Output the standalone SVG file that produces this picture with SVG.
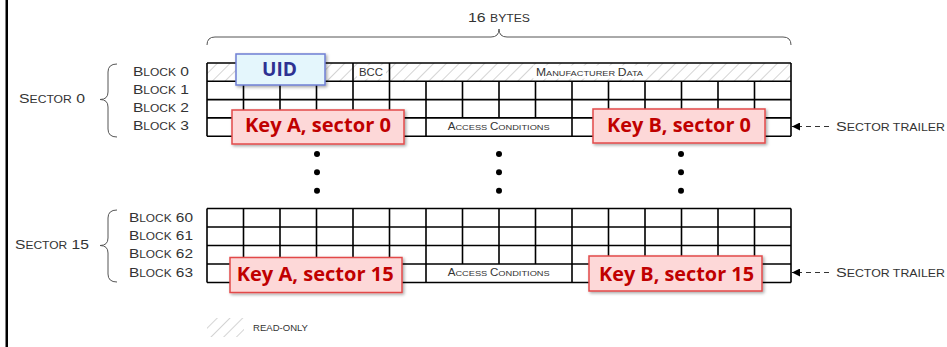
<svg xmlns="http://www.w3.org/2000/svg" width="947" height="347" viewBox="0 0 947 347">
  <style>
    .lbl { font-family: "Liberation Sans", Arial, sans-serif; fill: #333333; }
    .grid { fill: none; stroke: #000000; stroke-width: 1.6; }
    .brace { fill: none; stroke: #555555; stroke-width: 1; }
    .key rect { fill: #FDD8D8; stroke: #E24A4A; stroke-width: 1.5; filter: url(#shadow); }
    .key text { font-family: "Open Sans", "Noto Sans", sans-serif; font-weight: 700; font-size: 19px; fill: #C00000; }
    .uid rect { fill: #E4F6FC; stroke: #6F7FD4; stroke-width: 1.5; filter: url(#shadow); }
    .uid text { font-family: "Open Sans", "Noto Sans", sans-serif; font-weight: 700; font-size: 20px; fill: #2E3192; }
    .dot { fill: #000000; }
    .trail { stroke: #333333; stroke-width: 1; stroke-dasharray: 5 4; marker-end: url(#arrow); }
  </style>
  <defs>
    <pattern id="hatch" patternUnits="userSpaceOnUse" width="9" height="9" patternTransform="rotate(45)">
      <line x1="0" y1="0" x2="0" y2="9" stroke="#BDBDBD" stroke-width="1.3"/>
    </pattern>
    <filter id="shadow" x="-10%" y="-20%" width="125%" height="150%">
      <feDropShadow dx="1.5" dy="1.5" stdDeviation="1.5" flood-color="#000000" flood-opacity="0.35"/>
    </filter>
    <marker id="arrow" viewBox="0 0 8 8" refX="8" refY="4" markerWidth="8" markerHeight="8" markerUnits="userSpaceOnUse" orient="auto">
      <path d="M0,0 L8,4 L0,8 z" fill="#000000"/>
    </marker>
  </defs>

  <rect width="947" height="347" fill="#FFFFFF"/>
  <!-- left frame edge -->
  <rect x="5.5" y="0" width="2.5" height="347" fill="#000000"/>

  <!-- 16 bytes brace and caption -->
  <g id="bytes-header">
    <path class="brace" d="M207,45 Q207,37 215,37 L491,37 Q499,37 499,29 Q499,37 507,37 L783,37 Q791,37 791,45"/>
    <text class="lbl" x="468" y="22" textLength="62" lengthAdjust="spacingAndGlyphs"><tspan font-size="13">16 </tspan><tspan font-size="10">BYTES</tspan></text>
  </g>

  <!-- sector 0 memory grid -->
  <g id="sector0-grid">
    <rect x="207" y="63" width="584" height="18.3" fill="url(#hatch)"/>
    <rect x="357" y="65.5" width="29" height="13" fill="#FFFFFF"/>
    <rect x="533" y="65.5" width="114" height="13" fill="#FFFFFF"/>
    <path class="grid" d="M207,63 H791 M207,81.3 H791 M207,99.6 H791 M207,117.9 H791 M207,136.2 H791
      M207,63 V136.2 M791,63 V136.2
      M353,63 V117.9 M389.5,63 V117.9
      M243.5,81.3 V117.9 M280,81.3 V117.9 M316.5,81.3 V117.9
      M462.5,81.3 V117.9 M499,81.3 V117.9 M535.5,81.3 V117.9
      M608.5,81.3 V117.9 M645,81.3 V117.9 M681.5,81.3 V117.9 M718,81.3 V117.9 M754.5,81.3 V117.9
      M426,81.3 V136.2 M572,81.3 V136.2"/>
    <text class="lbl" x="359" y="76" font-size="10.5" textLength="24" lengthAdjust="spacingAndGlyphs">BCC</text>
    <text class="lbl" x="536" y="76" textLength="107" lengthAdjust="spacingAndGlyphs"><tspan font-size="10.5">M</tspan><tspan font-size="8">ANUFACTURER </tspan><tspan font-size="10.5">D</tspan><tspan font-size="8">ATA</tspan></text>
    <text class="lbl" x="447.7" y="130" textLength="102" lengthAdjust="spacingAndGlyphs"><tspan font-size="10">A</tspan><tspan font-size="8">CCESS </tspan><tspan font-size="10">C</tspan><tspan font-size="8">ONDITIONS</tspan></text>
  </g>

  <!-- sector 15 memory grid -->
  <g id="sector15-grid">
    <path class="grid" d="M207,208.5 H791 M207,227 H791 M207,245.5 H791 M207,264 H791 M207,282.5 H791
      M207,208.5 V282.5 M791,208.5 V282.5
      M426,208.5 V282.5 M572,208.5 V282.5
      M243.5,208.5 V264 M280,208.5 V264 M316.5,208.5 V264 M353,208.5 V264 M389.5,208.5 V264
      M462.5,208.5 V264 M499,208.5 V264 M535.5,208.5 V264
      M608.5,208.5 V264 M645,208.5 V264 M681.5,208.5 V264 M718,208.5 V264 M754.5,208.5 V264"/>
    <text class="lbl" x="447.7" y="276" textLength="102" lengthAdjust="spacingAndGlyphs"><tspan font-size="10">A</tspan><tspan font-size="8">CCESS </tspan><tspan font-size="10">C</tspan><tspan font-size="8">ONDITIONS</tspan></text>
  </g>

  <!-- sector 0 labels -->
  <g id="sector0-labels">
    <path class="brace" d="M117,64 Q108,64 108,72 L108,92 Q108,99.5 100,99.5 Q108,99.5 108,107 L108,129 Q108,137 117,137"/>
    <text class="lbl" x="19" y="103.3" textLength="66" lengthAdjust="spacingAndGlyphs"><tspan font-size="13">S</tspan><tspan font-size="10">ECTOR</tspan><tspan font-size="13"> 0</tspan></text>
    <text class="lbl" x="133" y="76" textLength="56" lengthAdjust="spacingAndGlyphs"><tspan font-size="13">B</tspan><tspan font-size="10">LOCK</tspan><tspan font-size="13"> 0</tspan></text>
    <text class="lbl" x="133" y="94" textLength="56" lengthAdjust="spacingAndGlyphs"><tspan font-size="13">B</tspan><tspan font-size="10">LOCK</tspan><tspan font-size="13"> 1</tspan></text>
    <text class="lbl" x="133" y="112.3" textLength="56" lengthAdjust="spacingAndGlyphs"><tspan font-size="13">B</tspan><tspan font-size="10">LOCK</tspan><tspan font-size="13"> 2</tspan></text>
    <text class="lbl" x="133" y="130.3" textLength="56" lengthAdjust="spacingAndGlyphs"><tspan font-size="13">B</tspan><tspan font-size="10">LOCK</tspan><tspan font-size="13"> 3</tspan></text>
  </g>

  <!-- sector 15 labels -->
  <g id="sector15-labels">
    <path class="brace" d="M117,210 Q108,210 108,218 L108,238 Q108,245.5 100,245.5 Q108,245.5 108,253 L108,274 Q108,282 117,282"/>
    <text class="lbl" x="15" y="249.3" textLength="74" lengthAdjust="spacingAndGlyphs"><tspan font-size="13">S</tspan><tspan font-size="10">ECTOR</tspan><tspan font-size="13"> 15</tspan></text>
    <text class="lbl" x="129" y="221.7" textLength="64" lengthAdjust="spacingAndGlyphs"><tspan font-size="13">B</tspan><tspan font-size="10">LOCK</tspan><tspan font-size="13"> 60</tspan></text>
    <text class="lbl" x="129" y="240" textLength="64" lengthAdjust="spacingAndGlyphs"><tspan font-size="13">B</tspan><tspan font-size="10">LOCK</tspan><tspan font-size="13"> 61</tspan></text>
    <text class="lbl" x="129" y="258.3" textLength="64" lengthAdjust="spacingAndGlyphs"><tspan font-size="13">B</tspan><tspan font-size="10">LOCK</tspan><tspan font-size="13"> 62</tspan></text>
    <text class="lbl" x="129" y="276.7" textLength="64" lengthAdjust="spacingAndGlyphs"><tspan font-size="13">B</tspan><tspan font-size="10">LOCK</tspan><tspan font-size="13"> 63</tspan></text>
  </g>

  <!-- sector trailer pointers -->
  <g id="connectors">
    <line class="trail" x1="829" y1="126.5" x2="792" y2="126.5"/>
    <line class="trail" x1="829" y1="272.5" x2="792" y2="272.5"/>
  </g>
  <g id="trailer-labels">
    <text class="lbl" x="836" y="130.5" textLength="109" lengthAdjust="spacingAndGlyphs"><tspan font-size="13">S</tspan><tspan font-size="10">ECTOR TRAILER</tspan></text>
    <text class="lbl" x="836" y="276.7" textLength="109" lengthAdjust="spacingAndGlyphs"><tspan font-size="13">S</tspan><tspan font-size="10">ECTOR TRAILER</tspan></text>
  </g>

  <!-- elided sectors -->
  <g id="ellipsis">
    <circle class="dot" cx="317" cy="154" r="3"/>
    <circle class="dot" cx="317" cy="172.3" r="3"/>
    <circle class="dot" cx="317" cy="190.7" r="3"/>
    <circle class="dot" cx="499" cy="154" r="3"/>
    <circle class="dot" cx="499" cy="172.3" r="3"/>
    <circle class="dot" cx="499" cy="190.7" r="3"/>
    <circle class="dot" cx="681" cy="154" r="3"/>
    <circle class="dot" cx="681" cy="172.3" r="3"/>
    <circle class="dot" cx="681" cy="190.7" r="3"/>
  </g>

  <!-- highlighted fields -->
  <g id="uid" class="uid">
    <rect x="236" y="54" width="89" height="31"/>
    <text x="262" y="76" textLength="35" lengthAdjust="spacingAndGlyphs">UID</text>
  </g>
  <g id="key-a-sector0" class="key">
    <rect x="232" y="110" width="172" height="34"/>
    <text x="245" y="132" textLength="146" lengthAdjust="spacingAndGlyphs">Key A, sector 0</text>
  </g>
  <g id="key-b-sector0" class="key">
    <rect x="593" y="109" width="172" height="34"/>
    <text x="607" y="131.5" textLength="144" lengthAdjust="spacingAndGlyphs">Key B, sector 0</text>
  </g>
  <g id="key-a-sector15" class="key">
    <rect x="230" y="257.5" width="172" height="35"/>
    <text x="236.7" y="281" textLength="157" lengthAdjust="spacingAndGlyphs">Key A, sector 15</text>
  </g>
  <g id="key-b-sector15" class="key">
    <rect x="589" y="256" width="173" height="35"/>
    <text x="599" y="280.5" textLength="155" lengthAdjust="spacingAndGlyphs">Key B, sector 15</text>
  </g>

  <!-- legend -->
  <g id="legend">
    <rect x="207" y="318" width="37" height="19" fill="url(#hatch)"/>
    <text class="lbl" x="253" y="330.5" font-size="8.5" textLength="55" lengthAdjust="spacingAndGlyphs">READ-ONLY</text>
  </g>
</svg>
